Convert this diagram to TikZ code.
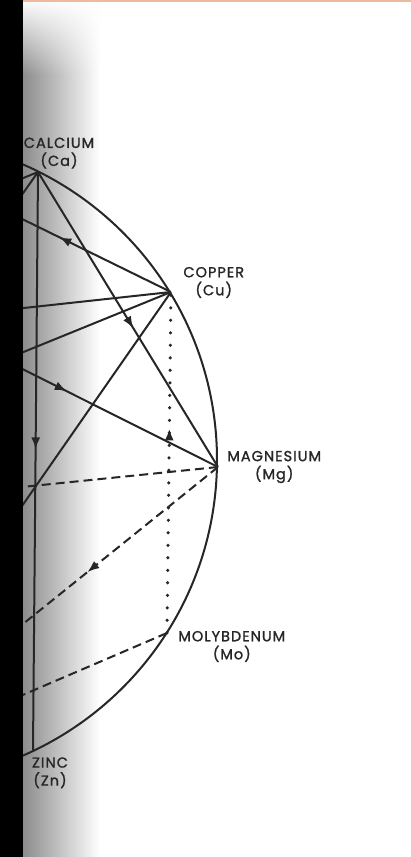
\documentclass[tikz,border=0pt]{standalone}
\usepackage{fontspec}
\setmainfont{Poppins}
\newfontfamily\lblfont{Poppins}[LetterSpace=7, FakeBold=1.3]
\usetikzlibrary{positioning, arrows.meta, decorations.markings, fadings}

\definecolor{ink}{HTML}{262626}
\definecolor{rim}{HTML}{EDBA9C}
\tikzfading[name=fadedown, top color=transparent!0, bottom color=transparent!100]

\tikzset{
  pt/.style={circle, inner sep=0pt, minimum size=0pt},
  lbl/.style={font=\lblfont\fontsize{14.5}{18}\selectfont, align=center, inner sep=0pt, text=ink},
  link/.style={draw=ink, line width=2pt},
  dashlink/.style={link, dash pattern=on 9pt off 5pt},
  dotlink/.style={draw=ink, line width=3.5pt, line cap=round, dash pattern=on 0pt off 12.5pt},
  midarrow/.style={postaction={decorate}, decoration={markings,
    mark=at position #1 with {\arrow{Latex[length=12pt, width=9pt]}}}}
}

\begin{document}
\begin{tikzpicture}[x=1pt, y=-1pt]
  \useasboundingbox (0,0) rectangle (411,857);
  \clip (0,0) rectangle (411,857);
  \fill[white] (0,0) rectangle (411,857);
  % shadow beside the bar
  \shade[left color=black!45, right color=white] (23,0) rectangle (100,857);
  \fill[white, path fading=fadedown] (23,-1) rectangle (101,75);

  % wheel
  \coordinate (ctr) at (-105,460);
  \draw[link] (ctr) circle [radius=322];

  \node[pt] (ca) at (38,172) {};
  \node[pt] (cu) at (171,292) {};
  \node[pt] (mg) at (218,467) {};
  \node[pt] (mo) at (167,633) {};
  \node[pt] (zn) at (33,750) {};
  % minerals behind the bar
  \coordinate (left1) at (-139,140);
  \coordinate (left2) at (-303,206);
  \coordinate (left3) at (-409,355);
  \coordinate (left4) at (-419,532);
  \coordinate (left5) at (-329,692);
  \coordinate (left6) at (-166,776);

  \draw[link, midarrow=0.48] (ca) -- (zn);
  \draw[link, midarrow=0.53] (ca) -- (mg);
  \draw[link] (ca) -- (left3);
  \draw[link] (ca) -- (left5);
  \draw[link, midarrow=0.36] (cu) -- (left1);
  \draw[link] (cu) -- (left3);
  \draw[link] (cu) -- (left4);
  \draw[link] (cu) -- (left6);
  \draw[link, midarrow=0.71] (left2) -- (mg);
  \draw[dashlink] (mg) -- (left4);
  \draw[dashlink, midarrow=0.34] (mg) -- (left6);
  \draw[dashlink] (mo) -- (left6);
  \draw[dotlink, midarrow=0.6] (mo) -- (cu);

  \node[lbl, above=3pt of ca, xshift=21pt] (calbl) {CALCIUM\\(Ca)};
  \node[lbl, right=12pt of cu, yshift=9.5pt] (culbl) {COPPER\\(Cu)};
  \node[lbl, right=9pt of mg] (mglbl) {MAGNESIUM\\(Mg)};
  \node[lbl, right=11pt of mo, yshift=-13.5pt] (molbl) {MOLYBDENUM\\(Mo)};
  \node[lbl, below=7pt of zn, xshift=17pt] (znlbl) {ZINC\\(Zn)};

  \fill[black] (0,0) rectangle (23,857);
  \fill[rim] (23,0) rectangle (411,1.5);
\end{tikzpicture}
\end{document}
